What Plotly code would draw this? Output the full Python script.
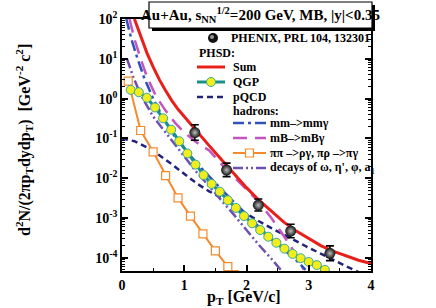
import plotly.graph_objects as go

# ---------------- data ----------------
phenix_pt = [1.17, 1.68, 2.19, 2.71, 3.34]
phenix_y = [0.14, 0.016, 2.1e-3, 4.7e-4, 1.3e-4]
phenix_err_up = [0.08, 0.008, 0.9e-3, 2.3e-4, 0.7e-4]
phenix_err_dn = [0.05, 0.005, 0.6e-3, 1.5e-4, 0.45e-4]

sum_pt = [0.2, 0.3, 0.4, 0.5, 0.6, 0.7, 0.8, 0.9, 1.0, 1.1, 1.2, 1.4, 1.6, 1.8,
          2.0, 2.2, 2.4, 2.6, 2.8, 3.0, 3.2, 3.4, 3.6, 3.8, 4.0]
sum_y = [100, 35.5, 14.1, 6.3, 3.0, 1.6, 0.89, 0.54, 0.35, 0.23, 0.15, 0.066,
         0.029, 0.0126, 5.8e-3, 2.8e-3, 1.45e-3, 7.9e-4, 4.7e-4, 3.0e-4,
         2.0e-4, 1.45e-4, 1.1e-4, 8.7e-5, 7.2e-5]

qgp_pt = [0.14, 0.27, 0.40, 0.53, 0.66, 0.79, 0.92, 1.05, 1.18, 1.31, 1.44,
          1.57, 1.70, 1.83, 1.96, 2.09, 2.22, 2.35, 2.48, 2.61, 2.74, 2.87,
          3.00, 3.13, 3.26]
qgp_y = [1.66, 1.45, 1.05, 0.60, 0.32, 0.166, 0.085, 0.042, 0.022, 0.012,
         7.2e-3, 4.6e-3, 2.8e-3, 1.8e-3, 1.12e-3, 7.4e-4, 5.0e-4, 3.4e-4,
         2.4e-4, 1.7e-4, 1.26e-4, 9.8e-5, 7.9e-5, 6.6e-5, 5.0e-5]

pqcd_pt = [0.0, 0.2, 0.4, 0.6, 0.8, 1.0, 1.2, 1.4, 1.6, 1.8, 2.0, 2.2, 2.4,
           2.6, 2.8, 3.0, 3.2, 3.4, 3.6, 3.8]
pqcd_y = [0.1, 0.085, 0.060, 0.038, 0.0224, 0.0126, 7.4e-3, 4.7e-3, 3.2e-3,
          2.0e-3, 1.26e-3, 8.3e-4, 5.6e-4, 3.8e-4, 2.6e-4, 1.8e-4, 1.26e-4,
          8.7e-5, 6.2e-5, 4.4e-5]

mm_pt = [0.07, 0.15, 0.25, 0.35, 0.5, 0.65, 0.8, 0.9, 1.0, 1.2, 1.4, 1.6,
         1.8, 2.0, 2.2, 2.4, 2.6, 2.8, 2.95]
mm_y = [100, 31.6, 10, 3.55, 1.0, 0.355, 0.141, 0.089, 0.056, 0.024, 0.011,
        5.2e-3, 2.5e-3, 1.26e-3, 6.0e-4, 3.0e-4, 1.58e-4, 8.7e-5, 5.0e-5]

mb_pt = [0.12, 0.2, 0.3, 0.4, 0.55, 0.7, 0.85, 1.0, 1.2, 1.4, 1.6, 1.8, 2.0,
         2.2, 2.4, 2.6, 2.8, 2.92]
mb_y = [100, 31.6, 10, 3.55, 1.12, 0.5, 0.25, 0.141, 0.079, 0.05, 0.0224,
        0.0105, 5.2e-3, 2.5e-3, 1.0e-3, 3.55e-4, 1.17e-4, 5.0e-5]

pipi_pt = [0.1, 0.3, 0.5, 0.7, 0.9, 1.1, 1.3, 1.5, 1.7, 1.8]
pipi_y = [2.75, 0.158, 0.046, 0.0117, 3.2e-3, 1.12e-3, 4.0e-4, 1.5e-4,
          6.0e-5, 3.8e-5]

dec_pt = [0.08, 0.18, 0.3, 0.5, 0.7, 0.85, 1.0, 1.2, 1.4, 1.6, 1.8, 2.0,
          2.2, 2.4, 2.55]
dec_y = [10, 3.55, 1.26, 0.355, 0.141, 0.071, 0.0355, 0.0141, 6.3e-3, 2.8e-3,
         1.2e-3, 5.0e-4, 2.1e-4, 9.5e-5, 5.0e-5]

y_tick_vals = [1e-4, 1e-3, 1e-2, 1e-1, 1e0, 1e1, 1e2]
y_tick_text = ["10<sup>-4</sup>", "10<sup>-3</sup>", "10<sup>-2</sup>",
               "10<sup>-1</sup>", "10<sup>0</sup>", "10<sup>1</sup>",
               "10<sup>2</sup>"]

# ---------------- styles ----------------
FONT = "Liberation Serif"
RED = "#e8201c"
TEAL = "#17908c"
YEL = "#f2ee1c"
NAVY = "#22227a"
BLUE = "#3052b8"
MAG = "#c455c0"
ORG = "#f58a2c"
PUR = "#6e50b0"
DASH_PQCD = "6px,4px"
DASH_MM = "11px,4px,3px,4px"
DASH_MB = "14px,8px"
DASH_DEC = "10px,3px,2px,3px,2px,3px"

W, H = 436, 308
L, R, T, B = 122, 65, 19, 37


def px(x):
    return (x - L) / (W - L - R)


def py(y):
    return (H - B - y) / (H - T - B)


fig = go.Figure()

fig.add_trace(go.Scatter(x=pqcd_pt, y=pqcd_y, mode="lines",
                         line=dict(color=NAVY, width=2.5, dash=DASH_PQCD)))
fig.add_trace(go.Scatter(x=dec_pt, y=dec_y, mode="lines",
                         line=dict(color=PUR, width=2.5, dash=DASH_DEC)))
fig.add_trace(go.Scatter(x=mb_pt, y=mb_y, mode="lines",
                         line=dict(color=MAG, width=2.5, dash=DASH_MB)))
fig.add_trace(go.Scatter(x=pipi_pt, y=pipi_y, mode="lines+markers",
                         line=dict(color=ORG, width=2),
                         marker=dict(symbol="square", size=8, color="white",
                                     line=dict(color=ORG, width=1.2))))
fig.add_trace(go.Scatter(x=mm_pt, y=mm_y, mode="lines",
                         line=dict(color=BLUE, width=2.5, dash=DASH_MM)))
fig.add_trace(go.Scatter(x=qgp_pt, y=qgp_y, mode="lines+markers",
                         line=dict(color=TEAL, width=3),
                         marker=dict(symbol="circle", size=9, color=YEL,
                                     line=dict(color="#3aa89a", width=1))))
fig.add_trace(go.Scatter(x=sum_pt, y=sum_y, mode="lines",
                         line=dict(color=RED, width=3)))
fig.add_trace(go.Scatter(
    x=phenix_pt, y=phenix_y, mode="markers",
    marker=dict(symbol="circle", size=11, color="#111111",
                gradient=dict(type="radial", color="#bdbdbd"),
                line=dict(width=0)),
    error_y=dict(type="data", array=phenix_err_up, arrayminus=phenix_err_dn,
                 color="black", thickness=1.6, width=4)))

shapes = []
ann = []

# title box with shadow
shapes.append(dict(type="rect", xref="paper", yref="paper",
                   x0=px(152), x1=px(375), y0=py(31), y1=py(5),
                   fillcolor="black", line=dict(width=0), layer="above"))
shapes.append(dict(type="rect", xref="paper", yref="paper",
                   x0=px(149), x1=px(372), y0=py(28), y1=py(2),
                   fillcolor="white", line=dict(color="black", width=1.2),
                   layer="above"))
ann.append(dict(xref="paper", yref="paper", x=px(260), y=py(15),
                text="Au+Au, s<sub>NN</sub><sup>1/2</sup>=200 GeV, MB, |y|<0.35",
                showarrow=False, xanchor="center", yanchor="middle",
                font=dict(family=FONT, size=15, color="black", weight="bold")))

# axis titles
ann.append(dict(xref="paper", yref="paper", x=px(244), y=py(297),
                text="p<sub>T</sub> [GeV/c]", showarrow=False,
                xanchor="center", yanchor="middle",
                font=dict(family=FONT, size=16, color="black", weight="bold")))
ann.append(dict(xref="paper", yref="paper", x=px(24), y=py(140),
                text="d<sup>2</sup>N/(2\u03c0p<sub>T</sub>dydp<sub>T</sub>)  [GeV<sup>-2</sup> c<sup>2</sup>]",
                showarrow=False, textangle=-90,
                xanchor="center", yanchor="middle",
                font=dict(family=FONT, size=16, color="black", weight="bold")))

LF = dict(family=FONT, size=12, color="black", weight="bold")


def txt(x, y, s):
    ann.append(dict(xref="paper", yref="paper", x=px(x), y=py(y), text=s,
                    showarrow=False, xanchor="left", yanchor="middle", font=LF))


def seg(x0, x1, y, color, width, dash="solid"):
    shapes.append(dict(type="line", xref="paper", yref="paper",
                       x0=px(x0), x1=px(x1), y0=py(y), y1=py(y),
                       line=dict(color=color, width=width, dash=dash),
                       layer="above"))


# legend
shapes.append(dict(type="circle", xref="paper", yref="paper",
                   x0=px(208), x1=px(218), y0=py(43), y1=py(33),
                   fillcolor="#111111", line=dict(width=0), layer="above"))
shapes.append(dict(type="circle", xref="paper", yref="paper",
                   x0=px(210), x1=px(214), y0=py(39), y1=py(35),
                   fillcolor="#9a9a9a", line=dict(width=0), layer="above"))
txt(229, 38, "PHENIX, PRL 104, 132301")
txt(197, 53, "PHSD:")
seg(197, 225, 67, RED, 3)
txt(231, 67, "Sum")
seg(197, 225, 82, TEAL, 3)
shapes.append(dict(type="circle", xref="paper", yref="paper",
                   x0=px(206.5), x1=px(215.5), y0=py(86.5), y1=py(77.5),
                   fillcolor=YEL, line=dict(color="#3aa89a", width=1),
                   layer="above"))
txt(231, 82, "QGP")
seg(197, 225, 97, NAVY, 2.5, DASH_PQCD)
txt(231, 97, "pQCD")
txt(231, 111, "hadrons:")
seg(233, 266, 123, BLUE, 2.5, DASH_MM)
txt(268, 123, "mm\u2013>mm\u03b3")
seg(233, 266, 138, MAG, 2.5, DASH_MB)
txt(268, 138, "mB\u2013>mB\u03b3")
seg(233, 266, 153, ORG, 2)
shapes.append(dict(type="rect", xref="paper", yref="paper",
                   x0=px(245.5), x1=px(253.5), y0=py(157), y1=py(149),
                   fillcolor="white", line=dict(color=ORG, width=1.2),
                   layer="above"))
txt(268, 153, "\u03c0\u03c0 \u2013>\u03c1\u03b3, \u03c0\u03c1 \u2013>\u03c0\u03b3")
seg(233, 266, 168, PUR, 2.5, DASH_DEC)
txt(268, 168, "decays of \u03c9, \u03b7', \u03c6, a<sub>1</sub>")

fig.update_layout(
    width=W, height=H, autosize=False,
    margin=dict(l=L, r=R, t=T, b=B, pad=0, autoexpand=False),
    paper_bgcolor="white", plot_bgcolor="white",
    showlegend=False,
    shapes=shapes, annotations=ann,
    font=dict(family=FONT, color="black"),
)

fig.update_xaxes(
    range=[0, 4], dtick=1, tick0=0, showgrid=False, zeroline=False,
    automargin=False,
    ticks="inside", ticklen=6, tickwidth=1.5, tickcolor="black",
    showline=True, linecolor="black", linewidth=1.8, mirror="ticks",
    minor=dict(dtick=0.5, ticks="inside", ticklen=3, tickcolor="black",
               tickwidth=1.2, showgrid=False),
    tickfont=dict(family=FONT, size=14, color="black", weight="bold"),
)

minor_vals = [m * 10.0 ** e for e in range(-5, 2) for m in range(2, 10)]
fig.update_yaxes(
    type="log", range=[-4.33, 2.0], showgrid=False, zeroline=False,
    automargin=False,
    tickmode="array", tickvals=y_tick_vals, ticktext=y_tick_text,
    ticks="inside", ticklen=6, tickwidth=1.5, tickcolor="black",
    showline=True, linecolor="black", linewidth=1.8, mirror="ticks",
    minor=dict(tickmode="array", tickvals=minor_vals, ticks="inside",
               ticklen=3, tickcolor="black", tickwidth=1.0, showgrid=False),
    tickfont=dict(family=FONT, size=14, color="black", weight="bold"),
)

fig.write_html(
    "out.html",
    config={"displayModeBar": False},
    post_script="document.body.style.margin='0';"
                "document.body.style.padding='0';"
                "document.body.style.overflow='hidden';",
)
